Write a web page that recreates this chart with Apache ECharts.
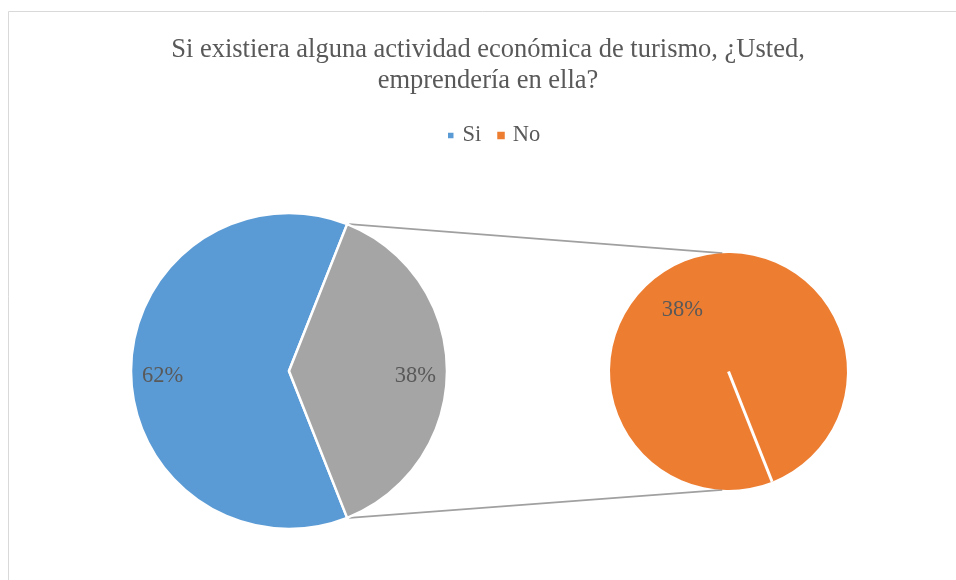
<!DOCTYPE html>
<html><head><meta charset="utf-8">
<script src="https://cdn.jsdelivr.net/npm/echarts@6/dist/echarts.min.js"></script>
<style>html,body{margin:0;padding:0;background:#fff}#c{width:956px;height:580px}</style>
</head><body><div id="c"></div>
<script>
// ---- data ----
const titleText = 'Si existiera alguna actividad económica de turismo, ¿Usted,\nemprendería en ella?';
const legendNames = ['Si', 'No'];
const mainNames = ['Si', 'Otro'];
const subNames = ['No'];
const subValues = [38];
const mainValues = [62, subValues.reduce((a, b) => a + b, 0)];

// ---- layout / style ----
const FONT = '"Liberation Serif", "Times New Roman", serif';
const TXT = '#595959';
const COLORS = { Si: '#5B9BD5', Otro: '#A5A5A5', No: '#ED7D31' };
const mainC = [289, 371], mainR = 158;
const subC = [728.5, 371.5], subR = 118.5;
const subConnAngle = 93;   // where the connectors meet the secondary pie
const subLabelAngle = 125, subLabelFrac = 0.68;
const mainLabelFrac = 0.8;
const labelDy = 5;

const total = mainValues.reduce((a, b) => a + b, 0);
const half = mainValues[1] / total * 180;      // half of the "Otro" slice angle
const startMain = -half;                       // so Otro is centered on the right
const rad = d => d * Math.PI / 180;

function mainMid(i) {
  let acc = 0;
  for (let k = 0; k < i; k++) acc += mainValues[k];
  return startMain - (acc + mainValues[i] / 2) / total * 360;
}
function pt(c, r, a) { return [c[0] + r * Math.cos(rad(a)), c[1] - r * Math.sin(rad(a))]; }

const mTop = pt(mainC, mainR, half), mBot = pt(mainC, mainR, -half);
const sTop = pt(subC, subR, subConnAngle), sBot = pt(subC, subR, -subConnAngle);
const sEdge = pt(subC, subR, -half);

const labelStyle = { show: true, position: 'inside', color: TXT, fontFamily: FONT, fontSize: 22.5,
  formatter: p => p.value + '%' };

const chart = echarts.init(document.getElementById('c'), null, { renderer: 'canvas' });
chart.setOption({
  backgroundColor: '#fff',
  animation: false,
  title: {
    text: titleText, left: 488, top: 34, padding: 0, textAlign: 'center',
    textStyle: { fontFamily: FONT, fontSize: 26.5, fontWeight: 'normal', color: TXT, lineHeight: 31.5 }
  },
  legend: {
    data: legendNames, left: 446, top: 124, itemWidth: 7.5, itemHeight: 7.5, itemGap: 16, icon: 'rect',
    padding: 0,
    textStyle: { fontFamily: FONT, fontSize: 22.5, color: TXT, padding: [0, 0, 0, 3] }
  },
  graphic: [
    { type: 'rect', shape: { x: 8.5, y: 11.5, width: 1200, height: 1200 }, style: { fill: null, stroke: '#D9D9D9', lineWidth: 1 }, z: 0 },
    { type: 'line', shape: { x1: mTop[0] + 2, y1: mTop[1], x2: sTop[0], y2: sTop[1] }, style: { stroke: '#A0A0A0', lineWidth: 1.6 }, z: 1 },
    { type: 'line', shape: { x1: mBot[0] + 2, y1: mBot[1], x2: sBot[0], y2: sBot[1] }, style: { stroke: '#A0A0A0', lineWidth: 1.6 }, z: 1 },
    { type: 'line', shape: { x1: subC[0], y1: subC[1], x2: sEdge[0], y2: sEdge[1] }, style: { stroke: '#fff', lineWidth: 3 }, z: 100 }
  ],
  series: [
    {
      type: 'pie', center: mainC, radius: mainR, startAngle: startMain, clockwise: true,
      silent: true, avoidLabelOverlap: false,
      itemStyle: { borderColor: '#fff', borderWidth: 2.5 },
      label: labelStyle, labelLine: { show: false },
      labelLayout: p => {
        const a = mainMid(p.dataIndex);
        const q = pt(mainC, mainR * mainLabelFrac, a);
        return { x: q[0], y: q[1] + labelDy, align: 'center', verticalAlign: 'middle' };
      },
      data: mainNames.map((n, i) => ({ name: n, value: mainValues[i], itemStyle: { color: COLORS[n] } }))
    },
    {
      type: 'pie', center: subC, radius: subR, startAngle: -half, clockwise: true,
      silent: true, avoidLabelOverlap: false,
      itemStyle: { borderWidth: 0 },
      label: labelStyle, labelLine: { show: false },
      labelLayout: p => {
        const q = pt(subC, subR * subLabelFrac, subLabelAngle);
        return { x: q[0], y: q[1] + labelDy, align: 'center', verticalAlign: 'middle' };
      },
      data: subNames.map((n, i) => ({ name: n, value: subValues[i], itemStyle: { color: COLORS[n] } }))
    }
  ]
});
</script></body></html>
